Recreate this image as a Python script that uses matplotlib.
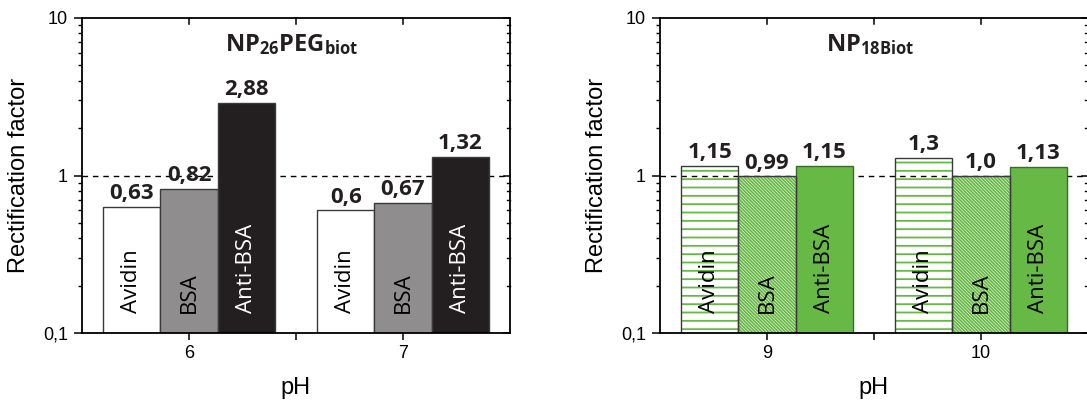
import numpy as np
import matplotlib
matplotlib.use("Agg")
import matplotlib.pyplot as plt
from matplotlib.ticker import FixedLocator, FixedFormatter, NullFormatter
import matplotlib.transforms as mtransforms

plt.rcParams['font.family'] = ['Liberation Sans', 'DejaVu Sans']
plt.rcParams['mathtext.fontset'] = 'custom'
plt.rcParams['mathtext.rm'] = 'Open Sans'
plt.rcParams['mathtext.bf'] = 'Open Sans:bold'
plt.rcParams['hatch.linewidth'] = 1.3

proteins = ["Avidin", "BSA", "Anti-BSA"]

# left panel: NP26PEGbiot
ph_left = [6, 7]
left_vals = {
    "Avidin": [0.63, 0.6],
    "BSA": [0.82, 0.67],
    "Anti-BSA": [2.88, 1.32],
}
left_labels = {
    "Avidin": ["0,63", "0,6"],
    "BSA": ["0,82", "0,67"],
    "Anti-BSA": ["2,88", "1,32"],
}

# right panel: NP18Biot
ph_right = [9, 10]
right_vals = {
    "Avidin": [1.15, 1.3],
    "BSA": [0.99, 1.0],
    "Anti-BSA": [1.15, 1.13],
}
right_labels = {
    "Avidin": ["1,15", "1,3"],
    "BSA": ["0,99", "1,0"],
    "Anti-BSA": ["1,15", "1,13"],
}

green = "#67b946"
left_style = {
    "Avidin": dict(face="white", hatch=None, text="black"),
    "BSA": dict(face="#8f8d8e", hatch=None, text="black"),
    "Anti-BSA": dict(face="#231f20", hatch=None, text="white"),
}
right_style = {
    "Avidin": dict(face="none", hatch="--", text="black"),
    "BSA": dict(face="none", hatch="\\" * 10, text="black"),
    "Anti-BSA": dict(face=green, hatch=None, text="black"),
}

fig = plt.figure(figsize=(10.87, 4.05), dpi=100)
ax1 = fig.add_axes([82 / 1087, 1 - 333 / 405, 428 / 1087, 315 / 405])
ax2 = fig.add_axes([660 / 1087, 1 - 333 / 405, 428 / 1087, 315 / 405])

width = 0.8 / 3
base = 0.1


def draw_panel(ax, ph, vals, labels, style, title):
    x = np.arange(len(ph)) + ph[0]
    ax.set_yscale("log")
    ax.set_ylim(0.1, 10)
    ax.set_xlim(ph[0] - 0.5, ph[-1] + 0.5)
    ax.axhline(1, color="black", lw=1.0, ls=(0, (4, 3.5)), zorder=1)
    trans = mtransforms.blended_transform_factory(ax.transData, ax.transAxes)
    for i, p in enumerate(proteins):
        pos = x + (i - 1) * width
        heights = np.array(vals[p]) - base
        st = style[p]
        if st["hatch"]:
            ax.bar(pos, heights, width, bottom=base, facecolor="none",
                   edgecolor=green, hatch=st["hatch"], lw=0, zorder=2)
            ax.bar(pos, heights, width, bottom=base, facecolor="none",
                   edgecolor="#3a3a3a", lw=1.0, zorder=3)
        else:
            ec = "#3a6a2a" if st["face"] == green else "#3a3a3a"
            ax.bar(pos, heights, width, bottom=base, facecolor=st["face"],
                   edgecolor=ec, lw=1.0, zorder=2)
        for j in range(len(ph)):
            ax.text(pos[j], vals[p][j] * 1.04, labels[p][j], ha="center",
                    va="bottom", fontsize=16, fontweight="bold",
                    family="Open Sans", color="#231f20", zorder=4)
            ax.text(pos[j], 0.063, p, rotation=90, ha="center", va="bottom",
                    fontsize=16, family="Open Sans", color=st["text"],
                    transform=trans, zorder=4)

    ax.yaxis.set_major_locator(FixedLocator([0.1, 1, 10]))
    ax.yaxis.set_major_formatter(FixedFormatter(["0,1", "1", "10"]))
    minors = [k * 0.1 for k in range(2, 10)] + list(range(2, 10))
    ax.yaxis.set_minor_locator(FixedLocator(minors))
    ax.yaxis.set_minor_formatter(NullFormatter())
    ax.xaxis.set_major_locator(FixedLocator(ph))
    ax.xaxis.set_major_formatter(FixedFormatter([str(p) for p in ph]))
    ax.xaxis.set_minor_locator(FixedLocator([ph[0] + 0.5]))

    ax.tick_params(axis="y", which="major", direction="out", length=6,
                   width=1.1, labelsize=13, pad=4, right=False)
    ax.tick_params(axis="y", which="minor", direction="out", length=3,
                   width=1.0, right=False)
    ax.tick_params(axis="x", which="both", direction="out", length=5,
                   width=1.1, labelsize=13, pad=4, top=False)

    # mirrored inward ticks on top and right
    yt = mtransforms.blended_transform_factory(ax.transAxes, ax.transData)
    xt = mtransforms.blended_transform_factory(ax.transData, ax.transAxes)
    for v in [0.1, 1, 10]:
        ax.plot([1, 0.985], [v, v], color="black", lw=1.1, transform=yt,
                clip_on=False, zorder=5)
    for v in minors:
        ax.plot([1, 0.992], [v, v], color="black", lw=1.0, transform=yt,
                clip_on=False, zorder=5)
    for v in [ph[0], ph[0] + 0.5, ph[1]]:
        ax.plot([v, v], [1, 0.98], color="black", lw=1.1, transform=xt,
                clip_on=False, zorder=5)

    for s in ax.spines.values():
        s.set_linewidth(1.3)
        s.set_zorder(6)

    ax.set_ylabel("Rectification factor", fontsize=17)
    ax.yaxis.set_label_coords(-0.121, 0.5)
    ax.set_xlabel("pH", fontsize=17)
    ax.xaxis.set_label_coords(0.5, -0.14)
    ax.xaxis.label.set_va("top")
    ax.text(0.49, 0.915, title, transform=ax.transAxes, ha="center",
            va="center", fontsize=17, color="#231f20")


draw_panel(ax1, ph_left, left_vals, left_labels, left_style,
           r"$\mathbf{NP_{26}PEG_{biot}}$")
draw_panel(ax2, ph_right, right_vals, right_labels, right_style,
           r"$\mathbf{NP_{18Biot}}$")

fig.savefig("out.png", dpi=100)
